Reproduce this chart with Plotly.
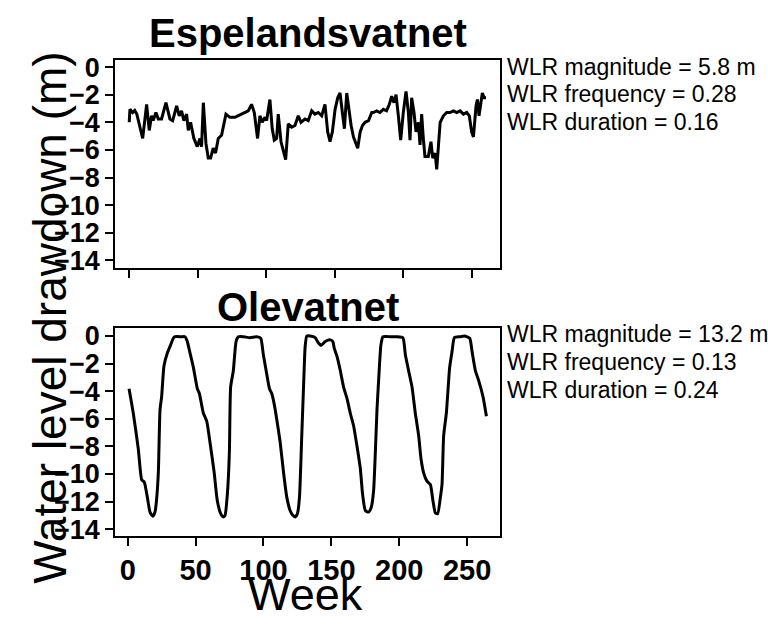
import plotly.graph_objects as go

# ---- Data ----
esp_week = [0, 0.5, 2.5, 4, 5.5, 9.8, 12.7, 14.6, 16.3, 17.5, 19.5, 21.2, 23.6, 26.8, 29.7, 31.7,
            34.6, 36.5, 38.2, 39.9, 41.9, 43.1, 44.8, 47.2, 49.7, 51.6, 52.8, 54.1, 56.0, 57.7,
            59.4, 61.3, 63.0, 65.0, 67.4, 70.6, 73.5, 77.2, 80.8, 84.5, 86.9, 89.3, 91.3, 93.7,
            95.4, 97.1, 99.1, 100.3, 102.7, 104.4, 105.9, 107.6, 108.8, 110.8, 112.5, 114.2,
            116.1, 118.6, 121.0, 123.4, 125.4, 128.3, 130.7, 133.2, 135.6, 138.0, 140.5, 142.9,
            144.9, 146.6, 148.3, 150.3, 152.2, 153.9, 155.6, 157.1, 158.8, 160.5, 162.0, 163.7,
            165.4, 166.8, 168.6, 170.3, 172.2, 174.7, 177.1, 178.2, 180.6, 183.0, 185.5, 187.9,
            189.9, 191.6, 193.3, 194.8, 196.5, 198.2, 200.1, 202.1, 203.8, 205.0, 206.2, 207.9,
            209.4, 211.1, 212.3, 213.5, 214.7, 215.9, 218.4, 220.3, 221.6, 223.3, 224.5, 225.7,
            227.0, 229.4, 231.8, 234.2, 236.7, 239.1, 241.5, 244.0, 246.4, 248.3, 250.0, 251.3,
            253.2, 254.2, 255.4, 256.6, 257.8, 259.1, 260.5]
esp_level = [-4.0, -3.06, -3.3, -3.15, -3.4, -5.17, -2.7, -4.59, -3.53, -3.88, -3.29, -3.76, -3.76,
             -2.58, -3.76, -3.88, -2.82, -3.53, -3.17, -3.88, -3.41, -4.59, -4.0, -5.17, -5.76,
             -5.17, -5.76, -2.58, -5.53, -6.59, -6.59, -5.88, -6.23, -5.17, -4.94, -3.41, -3.64,
             -3.64, -3.47, -3.29, -3.17, -2.70, -3.29, -5.17, -3.53, -4.0, -3.64, -3.88, -2.35,
             -4.47, -5.29, -5.17, -3.41, -5.41, -6.0, -6.7, -4.11, -4.35, -4.23, -3.53, -4.0,
             -3.76, -3.88, -3.17, -3.41, -3.29, -3.53, -2.70, -4.70, -5.41, -4.70, -3.06, -2.23,
             -1.88, -3.29, -4.47, -1.88, -3.29, -4.23, -5.06, -5.53, -5.88, -4.70, -4.23, -4.0,
             -3.88, -3.29, -3.29, -3.17, -3.29, -3.06, -3.17, -2.70, -2.11, -2.58, -2.0, -3.53,
             -5.29, -3.29, -1.76, -3.29, -5.29, -2.23, -3.29, -4.70, -4.0, -5.64, -3.41, -5.17,
             -6.47, -6.47, -5.41, -6.59, -6.23, -7.41, -5.64, -4.0, -3.53, -3.29, -3.29, -3.17,
             -3.29, -3.17, -3.41, -3.29, -3.53, -4.70, -5.06, -2.82, -2.35, -3.53, -2.70, -1.88,
             -2.23, -2.23]

ole_week = [1.0, 4.1, 7.8, 10.3, 12.2, 14.5, 16.4, 18.4, 20.1, 21.3, 22.6, 23.8, 25.0, 26.7, 29.2,
            31.2, 33.6, 34.8, 39.8, 42.2, 43.9, 45.9, 48.4, 51.3, 52.8, 55.7, 58.2, 60.6, 63.6,
            66.0, 68.5, 70.4, 71.7, 73.4, 74.9, 75.8, 77.8, 79.8, 81.5, 85.2, 90.1, 95.0, 98.0,
            99.9, 102.4, 104.4, 106.1, 107.8, 109.8, 112.3, 114.7, 117.2, 119.6, 121.6, 123.3,
            125.0, 126.5, 128.2, 129.5, 130.7, 131.9, 134.4, 138.1, 139.8, 142.3, 145.5, 149.2,
            151.1, 152.1, 154.1, 156.6, 159.0, 161.5, 163.9, 166.4, 168.8, 171.3, 173.0, 175.0,
            177.4, 179.4, 181.1, 182.4, 183.6, 184.8, 186.5, 188.0, 193.4, 198.3, 202.7, 204.5,
            206.9, 209.4, 211.8, 214.3, 216.0, 218.0, 220.4, 222.9, 224.8, 226.6, 228.3, 230.3,
            231.5, 232.7, 234.7, 237.1, 238.9, 240.6, 245.0, 248.0, 251.9, 253.6, 256.1, 258.5,
            261.7, 264.2]
ole_level = [-3.82, -5.58, -8.18, -10.42, -10.58, -11.7, -12.76, -13.07, -12.76, -11.82, -9.82,
             -5.35, -4.4, -2.17, -1.23, -0.75, -0.16, -0.05, -0.05, -0.05, -0.4, -1.23, -2.29,
             -3.82, -4.17, -5.58, -6.17, -7.7, -9.82, -11.94, -12.88, -13.12, -13.0, -11.47,
             -8.41, -3.7, -2.52, -0.4, -0.05, -0.05, -0.12, -0.05, -0.16, -1.35, -2.76, -3.82,
             -4.17, -4.88, -6.05, -7.7, -9.82, -11.7, -12.65, -13.0, -13.12, -12.88, -11.7,
             -7.23, -3.7, -0.75, 0.0, 0.0, -0.12, -0.4, -0.68, -0.4, -0.28, -0.4, -0.87, -1.46,
             -2.52, -3.7, -4.52, -5.58, -6.52, -7.94, -9.58, -11.47, -12.65, -12.76, -12.41,
             -11.23, -8.41, -5.35, -3.23, -0.64, -0.05, -0.05, -0.05, -0.12, -1.35, -2.52, -3.7,
             -5.58, -7.23, -8.88, -9.94, -10.52, -10.76, -11.94, -12.83, -12.88, -11.7, -10.76,
             -7.23, -5.58, -2.29, -1.11, -0.12, -0.05, 0.0, -0.16, -1.11, -2.52, -3.23, -4.4,
             -5.82]

y_ticks = [0, -2, -4, -6, -8, -10, -12, -14]
x_ticks = [0, 50, 100, 150, 200, 250]
esp_stats = ["WLR magnitude = 5.8 m", "WLR frequency = 0.28", "WLR duration = 0.16"]
ole_stats = ["WLR magnitude = 13.2 m", "WLR frequency = 0.13", "WLR duration = 0.24"]
titles = ["Espelandsvatnet", "Olevatnet"]

W, H = 768, 628
FONT = "Liberation Sans, Arial, sans-serif"


def px(x):
    return x / W


def py(y):
    return 1 - y / H


fig = go.Figure()
fig.add_trace(go.Scatter(x=esp_week, y=esp_level, mode="lines",
                         line=dict(color="black", width=3), xaxis="x", yaxis="y",
                         showlegend=False, hoverinfo="skip"))
fig.add_trace(go.Scatter(x=ole_week, y=ole_level, mode="lines",
                         line=dict(color="black", width=3, shape="spline", smoothing=0.5),
                         xaxis="x2", yaxis="y2", showlegend=False, hoverinfo="skip"))

axis_common = dict(showline=True, linecolor="black", linewidth=1.5, mirror=True,
                   ticks="outside", ticklen=8, tickwidth=1.5, tickcolor="black",
                   showgrid=False, zeroline=False)

fig.update_layout(
    width=W, height=H,
    margin=dict(l=0, r=0, t=0, b=0),
    paper_bgcolor="white", plot_bgcolor="white",
    xaxis=dict(domain=[px(115), px(500)], range=[-10.4, 270.7], anchor="y",
               tickvals=x_ticks, showticklabels=False, **axis_common),
    yaxis=dict(domain=[py(268.3), py(54)], range=[-14.59, 0.54], anchor="x",
               tickvals=y_ticks,
               tickfont=dict(family=FONT, size=27, color="black", weight="bold"),
               **axis_common),
    xaxis2=dict(domain=[px(115), px(500)], range=[-9.35, 274.2], anchor="y2",
                tickvals=x_ticks,
                tickfont=dict(family=FONT, size=29, color="black", weight="bold"),
                **axis_common),
    yaxis2=dict(domain=[py(542.7), py(329)], range=[-14.49, 0.61], anchor="x2",
                tickvals=y_ticks,
                tickfont=dict(family=FONT, size=27, color="black", weight="bold"),
                **axis_common),
)

ann = []
ann.append(dict(text=titles[0], x=px(308), y=py(27), xref="paper", yref="paper",
                xanchor="center", yanchor="middle", showarrow=False,
                font=dict(family=FONT, size=40, color="black", weight="bold")))
ann.append(dict(text=titles[1], x=px(308), y=py(308), xref="paper", yref="paper",
                xanchor="center", yanchor="middle", showarrow=False,
                font=dict(family=FONT, size=40, color="black", weight="bold")))
for i, t in enumerate(esp_stats):
    ann.append(dict(text=t, x=px(505), y=py(61.5 + 28.2 * i), xref="paper", yref="paper",
                    xanchor="left", yanchor="middle", showarrow=False,
                    font=dict(family=FONT, size=23, color="black")))
for i, t in enumerate(ole_stats):
    ann.append(dict(text=t, x=px(505), y=py(336 + 28.5 * i), xref="paper", yref="paper",
                    xanchor="left", yanchor="middle", showarrow=False,
                    font=dict(family=FONT, size=23, color="black")))
ann.append(dict(text="Water level drawdown (m)", x=px(50), y=py(319), xref="paper",
                yref="paper", xanchor="center", yanchor="middle", textangle=-90,
                showarrow=False, font=dict(family=FONT, size=46, color="black")))
ann.append(dict(text="Week", x=px(305), y=py(603), xref="paper", yref="paper",
                xanchor="center", yanchor="middle", showarrow=False,
                font=dict(family=FONT, size=45, color="black")))
fig.update_layout(annotations=ann)

fig.write_html("out.html",
               config={"displayModeBar": False},
               post_script="document.body.style.margin='0';"
                           "document.documentElement.style.overflow='hidden';")
